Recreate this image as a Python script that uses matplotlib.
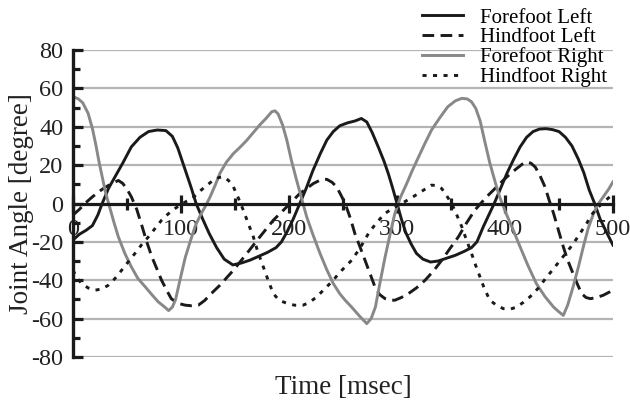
import numpy as np
import matplotlib
matplotlib.use("Agg")
import matplotlib.pyplot as plt
from matplotlib.ticker import MultipleLocator

plt.rcParams['font.family'] = ['Liberation Serif', 'DejaVu Serif']
plt.rcParams['axes.unicode_minus'] = False

# Forefoot Left (black solid)
t_fl = [0, 6, 12, 18, 23, 27, 33, 39, 46, 54, 62, 70, 78, 86, 92, 97, 103, 109, 114, 120,
        126, 133, 140, 148, 156, 164, 172, 180, 188, 193, 198, 204, 210, 216, 222, 229, 235,
        241, 247, 254, 261, 267, 272, 277, 283, 288, 292, 296, 300, 304, 308, 313, 318, 324,
        331, 338, 346, 354, 362, 369, 374, 380, 385, 390, 396, 402, 408, 414, 420, 426, 432,
        438, 444, 450, 456, 462, 468, 473, 478, 483, 488, 494, 500]
v_fl = [-19, -16, -14, -11.5, -6, 0, 8, 14, 21, 29.5, 34.5, 37.5, 38.3, 38, 35, 29, 19, 9, 0, -8,
        -15.5, -23, -29, -32, -31, -29.5, -27.5, -25.5, -23, -20, -15, -8, 0, 8, 17, 26, 33,
        37.5, 40.5, 42, 43, 44.3, 42.5, 37, 29, 22, 15.5, 8, 0, -8, -15, -21, -26, -29,
        -30.5, -30, -28.5, -27, -25, -23, -20, -12, -6, 0, 8, 16, 23, 29.5, 34.5, 37.5, 38.8,
        39, 38.5, 37.5, 34.5, 30, 23, 16, 7, 0, -8, -15, -21.7]

# Hindfoot Left (black dashed)
t_hl = [0, 6, 11, 17, 23.5, 30, 36, 42, 46, 50, 54, 59, 64, 68, 73, 78, 82, 87, 91, 97, 104,
        110, 116, 122, 127, 136, 148.5, 161, 173, 185.5, 198, 210, 222.5, 230, 235, 240, 244,
        248, 252, 257, 261, 266, 270.4, 275, 279.6, 284, 289, 294, 298, 304, 310.5, 318, 326,
        334, 341.4, 349, 356.8, 364, 372, 383, 392, 398.5, 405, 411, 416, 420, 424, 428, 432,
        437, 441, 445, 449, 454, 458, 463, 467, 471, 475, 479, 485, 491, 500]
v_hl = [-6, -3, 0, 3, 6, 8.5, 10.4, 12, 10.5, 7.5, 3.5, -3, -12, -19.5, -27.8, -34.5, -40, -45.5,
        -49.6, -52, -53, -53.3, -53, -50.5, -47.5, -42.6, -34.8, -26, -17.4, -8.7, -1.7, 5.2,
        10.4, 12.5, 12.6, 11, 8.7, 4.5, 0, -8, -15.7, -23, -29.6, -36.5, -43.5, -47.5, -49.6,
        -50.4, -50.4, -49, -47, -44, -40, -35, -29.6, -23.5, -17.4, -10.5, -3.5, 3.5, 8.5,
        12.2, 15.5, 18.3, 20.5, 21.7, 21, 19, 15, 8.7, 1.5, -5.2, -13, -22.6, -29.5, -36.5,
        -42, -47, -49, -49.6, -49, -47.8, -45.2]

# Forefoot Right (gray solid)
t_fr = [0, 5, 9, 14, 18, 21, 24, 27, 30, 33, 38, 42, 48, 54, 60, 67, 73, 79, 85, 88.5, 92, 95,
        99, 104, 109, 113, 118, 123, 127, 132, 136, 142, 148.5, 155, 161, 167, 173, 179, 184,
        187, 190, 194, 198, 202, 207, 212, 216.4, 222, 228.7, 235, 241, 247, 252, 258, 265,
        272, 276, 280, 284, 289, 294, 298, 303, 309, 314, 320, 326, 332, 340, 347, 354, 360,
        365, 369, 373, 377, 381, 386, 391, 395, 401, 407, 414, 421, 429, 437, 445, 450, 454,
        458, 463, 468, 472.5, 477, 482, 486, 491, 496, 500]
v_fr = [55.7, 54.5, 52.5, 47, 39, 31, 22, 14, 6, 0, -10, -17.4, -26, -33, -39, -43.5, -47.5,
        -51.3, -54, -55.8, -54, -50, -40, -28, -19, -12, -6, -1, 3.5, 10, 15.7, 21.5, 26, 29.5,
        33, 37, 41, 44.5, 47.8, 48.3, 46.6, 41, 33, 23, 12.2, 2, -7, -16, -26, -34.5, -41.7,
        -47, -50.4, -54, -58.5, -62.6, -60, -54, -42, -27.8, -15, -5.2, 3, 10.4, 17, 24.3,
        31.5, 38.3, 45, 50.4, 53.5, 54.8, 54.5, 53, 49.5, 43, 33, 21, 11, 3.5, -5.2, -13,
        -22.6, -32, -41.7, -48.5, -54, -56.5, -58.3, -53, -43.5, -33, -22.6, -13, -5.2, -0.5,
        3.5, 7.5, 11.3]

# Hindfoot Right (black dotted)
t_hr = [0, 4, 8, 14, 20.4, 27, 32.7, 39, 45, 51, 57.4, 63.5, 69.8, 76, 82, 88, 94.5, 100,
        106.8, 112, 117.6, 124, 130, 135, 139, 144, 148.5, 153, 157.7, 162, 167, 171, 176.2,
        181, 185.5, 191, 198, 205, 213, 219, 225.6, 233, 241, 246, 252, 258, 266, 273.5, 281,
        288.9, 296, 304.3, 312, 319.8, 326, 332, 337, 341.4, 346, 350.6, 355, 359.9, 364,
        369, 373, 377, 381, 386, 392, 398.5, 405, 410.8, 417, 423, 431, 438.6, 445, 451, 457,
        463.3, 469, 475.6, 480, 485, 491, 497]
v_hr = [-34.8, -39, -41.7, -44, -45.2, -44.5, -42.6, -39, -34.8, -30.5, -26, -21.5, -17.4, -13,
        -8.7, -5.5, -2.6, -0.5, 1.7, 3.5, 6.5, 9.5, 12.2, 13.5, 14, 12, 8.7, 3, -3.5, -10,
        -17.4, -25, -33, -40.5, -47, -50.5, -52, -53, -53, -51.5, -48.7, -44.5, -40, -36.5,
        -33, -29.6, -23, -15.7, -10, -5.2, -2.5, 0, 2.5, 5.2, 7.5, 9.6, 9.3, 7.8, 4, 0, -5.5,
        -12, -18.5, -26, -32.5, -38.5, -44.5, -50.4, -53, -54.8, -55, -54, -51.5, -48.7, -44,
        -38.3, -34, -29.6, -25.5, -20.9, -16, -10.4, -6, -2.6, 0.5, 3.5]

labels = ['Forefoot Left', 'Hindfoot Left', 'Forefoot Right', 'Hindfoot Right']

fig = plt.figure(figsize=(6.3, 4.03), dpi=100)
ax = fig.add_axes([73 / 630, 46 / 403, 540 / 630, 307 / 403])

dark = '#1a1a1a'
gray = '#888888'
lw = 2.1

ax.plot(t_fl, v_fl, color=dark, lw=lw, label=labels[0])
ax.plot(t_hl, v_hl, color=dark, lw=lw, dashes=(4.0, 2.2), label=labels[1])
ax.plot(t_fr, v_fr, color=gray, lw=lw, label=labels[2])
ax.plot(t_hr, v_hr, color=dark, lw=lw, dashes=(1.4, 2.2), label=labels[3])

ax.set_xlim(0, 500)
ax.set_ylim(-80, 80)

for y in range(-80, 81, 20):
    if y != 0:
        ax.axhline(y, color='#b4b4b4', lw=1.6, zorder=0)

ax.spines['top'].set_visible(False)
ax.spines['right'].set_visible(False)
ax.spines['left'].set_linewidth(2.4)
ax.spines['bottom'].set_linewidth(2.3)
ax.spines['left'].set_color(dark)
ax.spines['bottom'].set_color(dark)
ax.spines['bottom'].set_position(('data', 0))
ax.spines['bottom'].set_zorder(3)

ax.xaxis.set_major_locator(MultipleLocator(100))
ax.xaxis.set_minor_locator(MultipleLocator(50))
ax.yaxis.set_major_locator(MultipleLocator(20))
ax.yaxis.set_minor_locator(MultipleLocator(10))

ax.tick_params(axis='x', which='major', direction='inout', length=13, width=2.3,
               color=dark, labelsize=17.5, pad=5, labelcolor='#222222')
ax.tick_params(axis='x', which='minor', direction='inout', length=9, width=2.3, color=dark)
ax.tick_params(axis='y', which='major', direction='in', length=7, width=2.3,
               color=dark, labelsize=17.5, pad=7, labelcolor='#222222')
ax.tick_params(axis='y', which='minor', direction='in', length=5, width=2.3, color=dark)
for lab in ax.get_xticklabels():
    lab.set_clip_on(False)

ax.set_xlabel('Time [msec]', fontsize=19.5, color='#222222')
ax.xaxis.set_label_coords(0.5, -0.06)
ax.set_ylabel('Joint Angle [degree]', fontsize=19.5, color='#222222')
ax.yaxis.set_label_coords(-0.072, 0.5)

fig.legend(loc='upper right', bbox_to_anchor=(607 / 630, 1 - 8 / 403), frameon=False,
           fontsize=15, handlelength=2.0, handletextpad=0.8, labelspacing=0.0,
           borderpad=0, borderaxespad=0)

fig.savefig('out.png', dpi=100)
